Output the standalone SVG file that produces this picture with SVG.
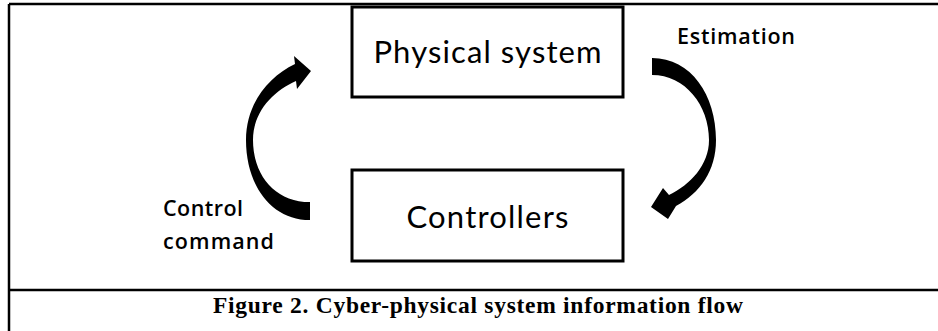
<svg xmlns="http://www.w3.org/2000/svg" width="938" height="331" viewBox="0 0 938 331">
<style>
.frame{stroke:#000;stroke-width:2.5;fill:none}
.box{fill:#fff;stroke:#000;stroke-width:3}
.lbl{font-family:Lato,"Open Sans","Liberation Sans",sans-serif;fill:#000}
.big{font-size:31px}
.small{font-family:"Open Sans",Lato,"Liberation Sans",sans-serif;font-size:21.5px;font-weight:600}
.arrow{fill:#000;stroke:none}
.cap{font-family:"Liberation Serif","Times New Roman",serif;font-weight:bold;font-size:23.5px;fill:#000}
</style>
<rect width="938" height="331" fill="#fff"/>
<g id="frame">
<line class="frame" x1="9" y1="4" x2="938" y2="4"/>
<line class="frame" x1="9" y1="4" x2="9" y2="331"/>
<line class="frame" x1="9" y1="290" x2="938" y2="290"/>
</g>
<g id="physical-system">
<rect class="box" x="352" y="7" width="271" height="90"/>
<text class="lbl big" x="487.5" y="63" text-anchor="middle" textLength="228">Physical system</text>
</g>
<g id="controllers">
<rect class="box" x="352" y="170" width="271" height="91"/>
<text class="lbl big" x="487.5" y="228" text-anchor="middle" textLength="162">Controllers</text>
</g>
<g id="connectors">
<path class="arrow" d="M310,220 C271,220 246,185 246,140 C246,104 268,77 295,64 L294,56 L311,71 L297,89 L296,81 C273,91 253,112 253,140 C253,175 275,202 310,202 Z"/>
<path class="arrow" d="M652,58 C691,58 716,95 716,140 C716,171 700,193 676,206 L668,219 L651,207 L663,188 L669,195 C690,185 709,165 709,140 C709,105 685,75 652,75 Z"/>
<text class="lbl small" x="677" y="44" textLength="118">Estimation</text>
<text class="lbl small" x="163" y="216" textLength="80">Control</text>
<text class="lbl small" x="163" y="249" textLength="111">command</text>
</g>
<g id="caption">
<text class="cap" x="478" y="313" text-anchor="middle" textLength="530">Figure 2. Cyber-physical system information flow</text>
</g>
</svg>
